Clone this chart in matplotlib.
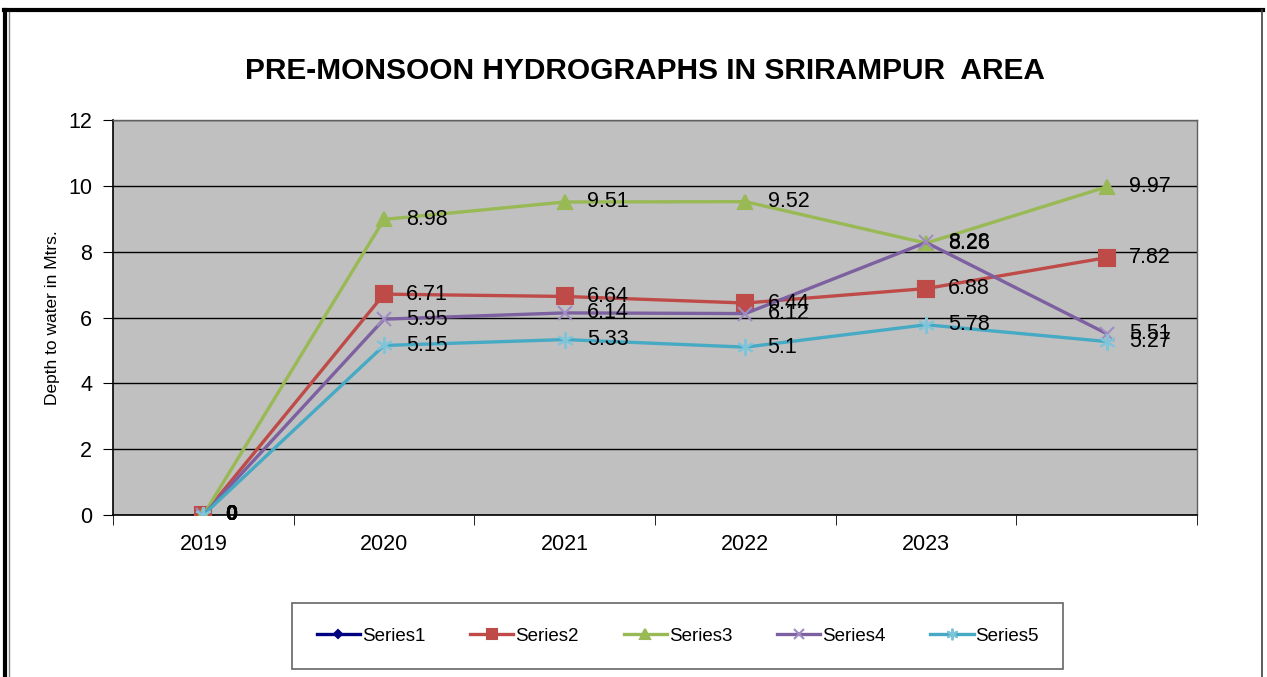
import matplotlib.pyplot as plt
from matplotlib.lines import Line2D
import numpy as np

plt.rcParams['font.family'] = ['Liberation Sans', 'DejaVu Sans']

years = ['2019', '2020', '2021', '2022', '2023', '']
nan = np.nan
series1 = [0, nan, nan, nan, nan, nan]
series2 = [0, 6.71, 6.64, 6.44, 6.88, 7.82]
series3 = [0, 8.98, 9.51, 9.52, 8.26, 9.97]
series4 = [0, 5.95, 6.14, 6.12, 8.28, 5.51]
series5 = [0, 5.15, 5.33, 5.10, 5.78, 5.27]

names = ['Series1', 'Series2', 'Series3', 'Series4', 'Series5']
data = [series1, series2, series3, series4, series5]
colors = ['#000080', '#BE4B48', '#98B954', '#7D60A0', '#46AAC5']
mcolors = ['#000080', '#BE4B48', '#98B954', '#A08CC0', '#7FC4D8']
markers = ['D', 's', '^', 'x', (6, 2, 0)]
msizes = [6, 11, 10, 10, 12]

fig = plt.figure(figsize=(12.67, 6.77), dpi=100)
ax = fig.add_axes([0.0892, 0.2393, 0.9448 - 0.0892, 0.8227 - 0.2393])
ax.set_facecolor('#C0C0C0')

x = np.arange(len(years))
for i, (nm, vals) in enumerate(zip(names, data)):
    ax.plot(x, vals, color=colors[i], lw=2.4, marker=markers[i], ms=msizes[i],
            mfc=mcolors[i], mec=mcolors[i], mew=1.5, label=nm, zorder=3 + i)

# data labels to the right of each point
for vals in data:
    for xi, v in zip(x, vals):
        if np.isnan(v):
            continue
        lab = '0' if v == 0 else ('%g' % v)
        ax.annotate(lab, (xi, v), xytext=(16, 0), textcoords='offset points',
                    ha='left', va='center', fontsize=15.5, color='black',
                    fontweight='bold' if v == 0 else 'normal', zorder=20)

ax.set_xlim(-0.5, 5.5)
ax.set_ylim(0, 12)
ax.set_yticks(range(0, 13, 2))
ax.yaxis.grid(True, color='black', lw=1)
ax.set_axisbelow(True)
ax.set_xticks(x)
ax.set_xticklabels(years)
ax.set_xticks(np.arange(-0.5, 6, 1), minor=True)
ax.tick_params(axis='x', which='major', length=0, pad=14, labelsize=15.5)
ax.tick_params(axis='x', which='minor', length=7, direction='out', color='black')
ax.tick_params(axis='y', length=7, direction='out', labelsize=15.5, pad=8)
for s in ['left', 'bottom']:
    ax.spines[s].set_color('black')
    ax.spines[s].set_linewidth(1.2)
for s in ['top', 'right']:
    ax.spines[s].set_color('#606060')
    ax.spines[s].set_linewidth(1)

ax.set_ylabel('Depth to water in Mtrs.', fontsize=12.5, labelpad=6)

fig.text(0.509, 0.895, 'PRE-MONSOON HYDROGRAPHS IN SRIRAMPUR  AREA',
         ha='center', va='center', fontsize=21.5, fontweight='bold')

leg = fig.legend(loc='center', bbox_to_anchor=(0.535, 0.0605), ncol=5,
                 fontsize=13.5, frameon=True, fancybox=False, handlelength=2.3,
                 handletextpad=0.1, columnspacing=2.4, borderpad=1.3,
                 markerscale=0.7)
leg.get_frame().set_edgecolor('#404040')
leg.get_frame().set_linewidth(1.2)

# outer chart frame
fig.add_artist(Line2D([0.003, 0.997], [0.985, 0.985], transform=fig.transFigure, color='black', lw=3))
fig.add_artist(Line2D([0.0042, 0.0042], [0, 0.985], transform=fig.transFigure, color='black', lw=3))
fig.add_artist(Line2D([0.0068, 0.0068], [0, 0.983], transform=fig.transFigure, color='#808080', lw=1))
fig.add_artist(Line2D([0.9962, 0.9962], [0, 0.985], transform=fig.transFigure, color='#404040', lw=1.2))

fig.savefig('out.png', dpi=100)
